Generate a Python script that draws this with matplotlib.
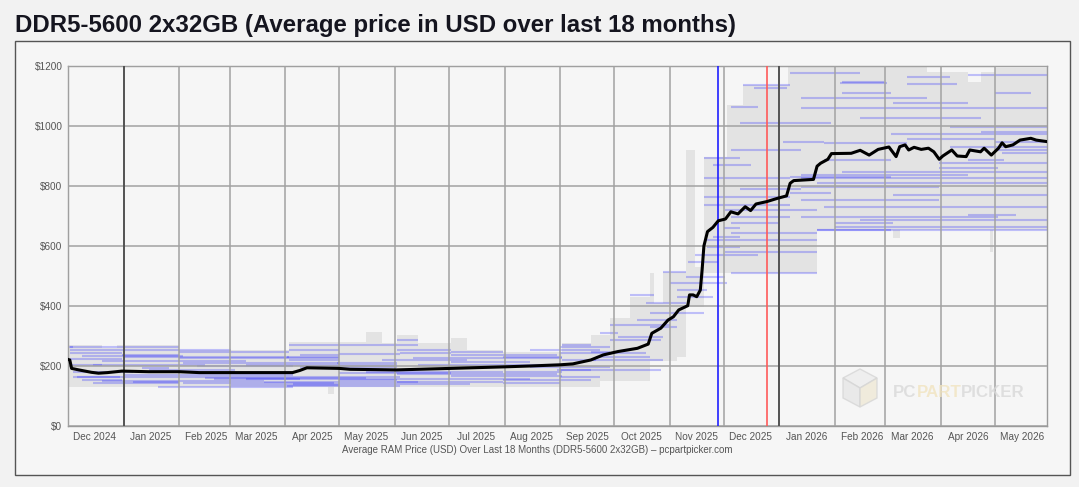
import numpy as np
import pandas as pd
import matplotlib
matplotlib.use("Agg")
import matplotlib.pyplot as plt
import matplotlib.dates as mdates
from matplotlib.patches import Rectangle, Polygon
from matplotlib.ticker import FixedLocator, FuncFormatter

plt.rcParams["font.family"] = ["Liberation Sans", "DejaVu Sans"]

# ── Data ──────────────────────────────────────────────────────
TITLE = "DDR5-5600 2x32GB (Average price in USD over last 18 months)"
XLABEL = "Average RAM Price (USD) Over Last 18 Months (DDR5-5600 2x32GB) \u2013 pcpartpicker.com"

avg_dates = [
    "2024-12-01", "2024-12-02", "2024-12-03", "2024-12-07", "2024-12-14", "2024-12-18",
    "2024-12-23", "2024-12-31", "2025-01-15", "2025-02-01", "2025-02-12", "2025-03-12",
    "2025-04-05", "2025-04-09", "2025-04-13", "2025-05-01", "2025-05-07", "2025-06-02",
    "2025-07-02", "2025-07-31", "2025-08-15", "2025-09-01", "2025-09-08", "2025-09-18",
    "2025-09-25", "2025-10-03", "2025-10-14", "2025-10-20", "2025-10-22", "2025-10-27",
    "2025-10-31", "2025-11-03", "2025-11-06", "2025-11-11", "2025-11-12", "2025-11-14",
    "2025-11-16", "2025-11-18", "2025-11-19", "2025-11-20", "2025-11-22", "2025-11-25",
    "2025-11-28", "2025-12-02", "2025-12-05", "2025-12-09", "2025-12-13", "2025-12-16",
    "2025-12-19", "2025-12-25", "2025-12-31", "2026-01-05", "2026-01-07", "2026-01-09",
    "2026-01-20", "2026-01-22", "2026-01-24", "2026-01-28", "2026-01-30", "2026-02-10",
    "2026-02-15", "2026-02-20", "2026-02-25", "2026-03-03", "2026-03-07", "2026-03-09",
    "2026-03-12", "2026-03-14", "2026-03-17", "2026-03-21", "2026-03-25", "2026-03-28",
    "2026-03-31", "2026-04-02", "2026-04-07", "2026-04-10", "2026-04-15", "2026-04-17",
    "2026-04-23", "2026-04-25", "2026-04-29", "2026-05-03", "2026-05-05", "2026-05-07",
    "2026-05-11", "2026-05-15", "2026-05-21", "2026-05-24", "2026-05-30",
]
avg_prices = [
    222, 220, 192, 187, 179, 176,
    178, 183, 181, 181, 178, 178,
    178, 185, 194, 192, 189, 187,
    192, 197, 200, 204, 207, 220,
    237, 248, 259, 273, 309, 326,
    353, 364, 387, 401, 437, 437,
    431, 453, 520, 600, 648, 662,
    684, 690, 714, 707, 731, 718,
    740, 748, 759, 767, 809, 818,
    822, 866, 876, 889, 908, 909,
    919, 903, 922, 930, 898, 931,
    937, 920, 929, 922, 926, 914,
    889, 900, 920, 900, 898, 920,
    914, 926, 903, 926, 944, 931,
    937, 953, 959, 953, 948,
]

# upper / lower edge of the grey price range (step changes)
upper_dates = [
    "2024-12-01", "2024-12-20", "2024-12-28", "2025-02-01", "2025-04-03", "2025-05-16",
    "2025-05-25", "2025-06-02", "2025-06-14", "2025-07-02", "2025-07-11", "2025-07-31",
    "2025-09-02", "2025-09-18", "2025-09-29", "2025-10-10", "2025-10-21", "2025-10-23",
    "2025-10-28", "2025-11-10", "2025-11-15", "2025-11-20", "2025-12-03", "2025-12-12",
    "2026-01-06", "2026-03-24", "2026-04-16", "2026-04-23", "2026-05-01", "2026-05-30",
]
upper_prices = [
    270, 259, 270, 253, 281, 312,
    276, 303, 276, 292, 253, 248,
    278, 303, 359, 431, 509, 409,
    514, 920, 530, 898, 1070, 1137,
    1200, 1181, 1148, 1181, 1192, 1192,
]
lower_dates = [
    "2024-12-01", "2025-04-25", "2025-04-28", "2025-09-23", "2025-10-21", "2025-11-05",
    "2025-11-10", "2025-11-20", "2026-01-22", "2026-03-05", "2026-03-09", "2026-04-28",
    "2026-04-30", "2026-05-30",
]
lower_prices = [
    131, 105, 131, 150, 215, 231,
    395, 509, 653, 626, 653, 580,
    653, 653,
]

# individual listings: start, end, price
seg_start = [
    "2024-12-01", "2024-12-02", "2024-12-02", "2024-12-31", "2024-12-09", "2024-12-02",
    "2025-02-03", "2025-02-11", "2025-01-11", "2024-12-06", "2025-07-02", "2024-12-04",
    "2024-12-09", "2025-01-06", "2025-02-03", "2024-12-15", "2025-03-02", "2025-04-02",
    "2025-03-04", "2025-03-10", "2025-04-03", "2025-04-02", "2025-04-09", "2025-04-03",
    "2025-05-01", "2025-06-04", "2025-07-02", "2025-07-31", "2025-06-11", "2025-04-30",
    "2025-07-02", "2025-05-01", "2025-05-01", "2025-06-02", "2025-07-31", "2025-08-30",
    "2025-08-15", "2025-09-02", "2025-09-18", "2025-09-02",
    "2024-12-02", "2024-12-28", "2025-02-01", "2025-01-01", "2025-02-01", "2024-12-20",
    "2025-03-10", "2024-12-15", "2025-01-01", "2025-02-15", "2024-12-20", "2025-03-20",
    "2025-04-05", "2025-01-20", "2025-05-01", "2025-06-02", "2025-05-16", "2025-06-14",
    "2025-05-25", "2025-07-13", "2025-06-02", "2025-05-16", "2025-06-02", "2025-07-31",
    "2025-07-02", "2025-08-15", "2025-08-01", "2025-04-03", "2025-04-09", "2025-01-15",
    "2024-12-02", "2024-12-04", "2025-02-20",
    "2025-09-23", "2025-09-29", "2025-10-10", "2025-10-21", "2025-10-21", "2025-09-29",
    "2025-09-01", "2025-09-01", "2025-09-18", "2025-09-01", "2025-09-01", "2025-10-28",
    "2025-11-01", "2025-11-05", "2025-11-11", "2025-11-22", "2025-11-25", "2025-12-01",
    "2025-11-20", "2025-11-20", "2025-11-20",
    "2025-09-21", "2025-10-03", "2025-10-14", "2025-10-19", "2025-11-05", "2025-11-10",
    "2025-11-15", "2025-11-20", "2025-12-02", "2025-12-10", "2025-11-25", "2025-12-05",
    "2025-12-12", "2025-12-18", "2025-12-05", "2025-12-10", "2026-01-03", "2026-01-07",
    "2026-01-07", "2025-12-05", "2025-12-05", "2026-01-22", "2025-12-05", "2025-11-22",
    "2025-12-02", "2025-12-05", "2026-01-26", "2026-02-05", "2026-02-05", "2026-02-04",
    "2026-03-13", "2026-05-01", "2026-03-05", "2026-01-13", "2026-04-06", "2026-04-23",
    "2026-03-13", "2026-05-01", "2026-05-03", "2026-05-05", "2026-04-16", "2026-03-31",
    "2026-03-31", "2026-01-13", "2026-01-13", "2026-01-13", "2026-01-13", "2026-01-13",
    "2026-01-22", "2026-02-01", "2026-04-16",
    "2026-01-13", "2026-02-15", "2026-03-04", "2026-01-26", "2026-04-06", "2026-02-05",
    "2026-01-22", "2026-03-05", "2026-01-26", "2026-02-15", "2026-02-01", "2026-04-16",
    "2026-03-13", "2026-01-07",
]
seg_end = [
    "2024-12-04", "2024-12-28", "2024-12-31", "2025-02-01", "2025-02-03", "2024-12-31",
    "2025-05-01", "2025-04-05", "2025-01-26", "2025-06-04", "2025-09-02", "2024-12-30",
    "2024-12-31", "2025-02-01", "2025-04-28", "2025-02-01", "2025-05-01", "2025-06-04",
    "2025-04-05", "2025-05-01", "2025-05-01", "2025-05-01", "2025-05-01", "2025-05-01",
    "2025-06-04", "2025-07-02", "2025-07-31", "2025-09-02", "2025-07-13", "2025-06-02",
    "2025-08-15", "2025-07-02", "2025-06-02", "2025-07-31", "2025-09-01", "2025-09-18",
    "2025-09-29", "2025-09-21", "2025-09-29", "2025-09-18",
    "2025-03-02", "2025-02-01", "2025-04-03", "2025-04-03", "2025-05-01", "2025-03-10",
    "2025-06-02", "2025-02-15", "2025-04-05", "2025-05-16", "2025-03-20", "2025-06-14",
    "2025-07-13", "2025-04-05", "2025-08-15", "2025-08-30", "2025-07-31", "2025-09-02",
    "2025-07-11", "2025-09-02", "2025-07-02", "2025-06-14", "2025-06-14", "2025-09-18",
    "2025-08-30", "2025-09-23", "2025-09-02", "2025-05-16", "2025-06-02", "2025-03-04",
    "2024-12-20", "2025-01-06", "2025-04-09",
    "2025-10-03", "2025-11-01", "2025-10-23", "2025-11-20", "2025-11-05", "2025-10-27",
    "2025-09-29", "2025-10-19", "2025-10-28", "2025-10-27", "2025-09-23", "2025-11-10",
    "2025-12-03", "2025-11-25", "2025-11-28", "2025-12-10", "2025-12-10", "2025-12-10",
    "2026-01-07", "2026-01-07", "2025-12-10",
    "2025-10-21", "2025-10-28", "2025-11-05", "2025-11-10", "2025-11-22", "2025-12-02",
    "2025-12-20", "2026-01-07", "2026-01-22", "2026-01-13", "2025-12-16", "2026-01-13",
    "2026-01-07", "2026-01-05", "2025-12-20", "2026-01-30", "2026-01-26", "2026-03-04",
    "2026-01-30", "2026-01-07", "2025-12-31", "2026-03-04", "2026-01-22", "2026-01-22",
    "2026-01-22", "2026-01-22", "2026-03-04", "2026-03-04", "2026-02-28", "2026-03-02",
    "2026-04-10", "2026-05-21", "2026-04-16", "2026-05-30", "2026-05-30", "2026-05-30",
    "2026-05-01", "2026-05-30", "2026-05-30", "2026-05-30", "2026-05-06", "2026-05-30",
    "2026-05-03", "2026-04-16", "2026-05-30", "2026-03-31", "2026-03-31", "2026-05-03",
    "2026-05-30", "2026-03-05", "2026-05-13",
    "2026-03-24", "2026-04-23", "2026-05-30", "2026-03-13", "2026-05-30", "2026-05-30",
    "2026-05-30", "2026-05-30", "2026-05-30", "2026-05-30", "2026-05-30", "2026-05-30",
    "2026-04-06", "2026-02-15",
]
seg_price = [
    265, 264, 242, 237, 233, 222,
    211, 200, 192, 164, 167, 162,
    153, 148, 142, 142, 137, 133,
    176, 156, 220, 229, 237, 253,
    240, 242, 246, 231, 226, 209,
    214, 176, 153, 148, 142, 187,
    198, 220, 248, 270,
    253, 262, 248, 231, 226, 218,
    205, 205, 170, 161, 150, 146,
    139, 131, 158, 172, 181, 203,
    220, 226, 253, 270, 287, 153,
    237, 253, 181, 270, 197, 187,
    203, 181, 156,
    309, 337, 437, 376, 331, 287,
    264, 242, 220, 187, 164, 514,
    476, 431, 548, 598, 631, 659,
    764, 826, 892,
    231, 298, 353, 409, 453, 498,
    570, 737, 720, 790, 870, 920,
    1137, 1126, 1064, 1009, 948, 831,
    775, 698, 676, 653, 642, 620,
    581, 509, 887, 1109, 1148, 1142,
    1140, 1109, 1076, 1059, 998, 981,
    956, 948, 920, 909, 887, 876,
    859, 837, 826, 798, 753, 698,
    653, 676, 703,
    1092, 1026, 972, 942, 930, 848,
    809, 770, 731, 687, 664, 1170,
    1164, 1175,
]

# marked dates: new year, black friday, christmas, new year
event_dates = ["2025-01-01", "2025-11-28", "2025-12-25", "2026-01-01"]
event_colors = ["#444444", "#2020ff", "#ff5a5a", "#444444"]

x_start, x_end = "2024-12-01", "2026-05-30"
y_ticks = [0, 200, 400, 600, 800, 1000, 1200]

# ── Figure ────────────────────────────────────────────────────
W, H = 1079, 487
fig = plt.figure(figsize=(W / 100, H / 100), dpi=100)
fig.patch.set_facecolor("#f2f2f2")


def fx(px):
    return px / W


def fy(py):
    return 1 - py / H


fig.patches.append(Rectangle((fx(15), fy(475)), fx(1070) - fx(15), fy(41) - fy(475),
                             transform=fig.transFigure, facecolor="#f6f6f6",
                             edgecolor="#555555", linewidth=1.0, zorder=-5))

fig.text(fx(15), fy(32), TITLE, fontsize=17.3, fontweight="bold",
         color="#15151f", va="baseline", ha="left")

ax = fig.add_axes([fx(68), fy(426), fx(1047) - fx(68), fy(66) - fy(426)])
ax.set_facecolor("#f6f6f6")

# grey range
up = pd.Series(upper_prices, index=pd.to_datetime(upper_dates))
lo = pd.Series(lower_prices, index=pd.to_datetime(lower_dates))
idx = up.index.union(lo.index)
up_s = up.reindex(idx).ffill()
lo_s = lo.reindex(idx).ffill()
ax.fill_between(idx, lo_s.values, up_s.values, step="post",
                color="#e3e3e3", linewidth=0, zorder=1)

# listings
ax.hlines(seg_price, pd.to_datetime(seg_start), pd.to_datetime(seg_end),
          colors="#2a2aff", alpha=0.27, linewidth=1.5, zorder=1.5)

for d, c in zip(event_dates, event_colors):
    ax.axvline(pd.Timestamp(d), color=c, linewidth=1.2, zorder=3)

ax.plot(pd.to_datetime(avg_dates), avg_prices, color="black", linewidth=2.2,
        zorder=5, solid_joinstyle="round")

ax.set_xlim(pd.Timestamp(x_start), pd.Timestamp(x_end))
ax.set_ylim(0, 1200)

ax.xaxis.set_major_locator(mdates.MonthLocator())
ax.xaxis.set_major_formatter(plt.NullFormatter())
ax.xaxis.set_minor_locator(mdates.MonthLocator(bymonthday=16))
ax.xaxis.set_minor_formatter(mdates.DateFormatter("%b %Y"))
ax.yaxis.set_major_locator(FixedLocator(y_ticks))
ax.yaxis.set_major_formatter(FuncFormatter(lambda v, p: "$%d" % v))

ax.tick_params(axis="both", which="both", length=0, labelsize=7.2, labelcolor="#555555")
ax.tick_params(axis="x", which="minor", pad=4)
ax.tick_params(axis="y", pad=4)
ax.grid(True, which="major", color="#a2a2a2", linewidth=1.1, zorder=2)
ax.set_axisbelow(False)
for s in ax.spines.values():
    s.set_color("#9a9a9a")
    s.set_linewidth(1.0)

fig.text(fx(537), fy(453), XLABEL, fontsize=7.0, color="#555555",
         ha="center", va="baseline")

# watermark
cube = [
    ([(860, 369), (877, 378), (860, 388), (843, 378)], "#ececec"),
    ([(843, 378), (860, 388), (860, 407), (843, 398)], "#e6e6e6"),
    ([(860, 388), (877, 378), (877, 398), (860, 407)], "#efe9d6"),
]
for pts, col in cube:
    fig.patches.append(Polygon([(fx(a), fy(b)) for a, b in pts], closed=True,
                               transform=fig.transFigure, facecolor=col,
                               edgecolor="#d6d6d6", linewidth=1.0, zorder=6, alpha=0.8))
wm_size = 12.2
t1 = fig.text(fx(893), fy(397), "PC", fontsize=wm_size, color="#d9d9d9",
              fontweight="bold", va="baseline", zorder=6, alpha=0.8)
t2 = fig.text(0, 0, "PART", fontsize=wm_size, color="#f1e4c0", fontweight="bold",
              zorder=6, alpha=0.8)
t3 = fig.text(0, 0, "PICKER", fontsize=wm_size, color="#d9d9d9", fontweight="bold",
              zorder=6, alpha=0.8)
fig.canvas.draw()
r = fig.canvas.get_renderer()
bb1 = t1.get_window_extent(r)
t2.set_position((bb1.x1 / W, fy(397)))
t2.set_va("baseline")
fig.canvas.draw()
bb2 = t2.get_window_extent(r)
t3.set_position((bb2.x1 / W, fy(397)))
t3.set_va("baseline")

fig.savefig("out.png", dpi=100, facecolor=fig.get_facecolor())
